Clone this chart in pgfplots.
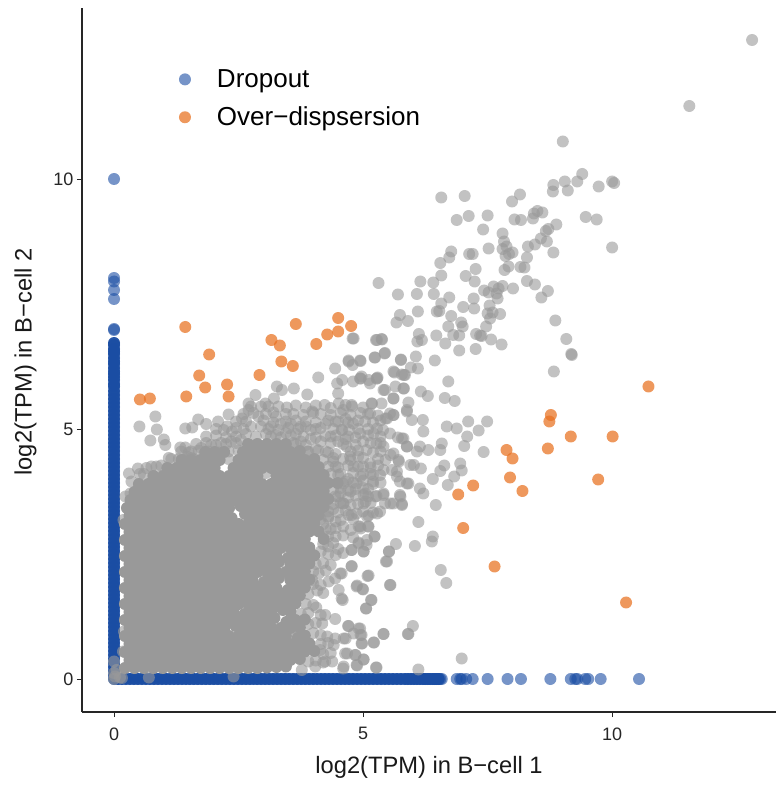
\documentclass[border=0pt]{standalone}
\usepackage{fontspec}
\setmainfont{Liberation Sans}
\usepackage{pgfplots}
\pgfplotsset{compat=1.18}
\definecolor{bl}{HTML}{1A4DA3}
\definecolor{gr}{HTML}{999999}
\definecolor{ora}{HTML}{E8701F}
\begin{document}
\begin{tikzpicture}
\path[use as bounding box] (-82pt,-73pt) rectangle (694pt,712pt);
\begin{axis}[
 scale only axis, width=694pt, height=704pt,
 xmin=-0.643, xmax=13.29, ymin=-0.66, ymax=13.42,
 axis lines=left, axis line style={-, line width=1.5pt, black!85},
 tick align=outside, major tick length=5pt,
 tick style={black!85, line width=0.8pt},
 xtick={0,5,10}, ytick={0,5,10},
 /pgf/number format/assume math mode=true,
 tick label style={font=\fontsize{18}{20}\selectfont, text=black!85},
 xticklabel style={yshift=-7pt},
 xlabel={log2(TPM) in B−cell 1}, ylabel={log2(TPM) in B−cell 2},
 label style={font=\fontsize{23.7}{28}\selectfont, text=black!90},
 xlabel style={yshift=-9pt},
 ylabel style={yshift=10pt, xshift=-2pt},
 legend cell align=left,
 legend style={draw=none, fill=none, at={(axis cs:1.3,12.23)}, anchor=north west, font=\fontsize{26}{30}\selectfont, row sep=14pt, inner sep=0pt},
 clip=false,
]
% Dropout: the dense x = 0 column and y = 0 row
\addplot[forget plot, only marks, mark=*, mark size=6pt, mark options={draw=bl, draw opacity=0, line width=0pt, fill=bl, fill opacity=0.95}] coordinates {
(0,0.0)(0,0.08)(0,0.16)(0,0.24)(0,0.32)(0,0.4)(0,0.48)(0,0.56)(0,0.64)(0,0.72)(0,0.8)(0,0.88)(0,0.96)(0,1.04)(0,1.12)(0,1.2)(0,1.28)(0,1.36)(0,1.44)(0,1.52)(0,1.6)(0,1.68)(0,1.76)(0,1.84)(0,1.92)(0,2.0)(0,2.08)(0,2.16)(0,2.24)(0,2.32)(0,2.4)(0,2.48)(0,2.56)(0,2.64)(0,2.72)(0,2.8)(0,2.88)(0,2.96)(0,3.04)(0,3.12)(0,3.2)(0,3.28)(0,3.36)(0,3.44)(0,3.52)(0,3.6)(0,3.68)(0,3.76)(0,3.84)(0,3.92)(0,4.0)(0,4.08)(0,4.16)(0,4.24)(0,4.32)(0,4.4)(0,4.48)(0,4.56)(0,4.64)(0,4.72)(0,4.8)(0,4.88)(0,4.96)(0,5.04)(0,5.12)(0,5.2)(0,5.28)(0,5.36)(0,5.44)(0,5.52)(0,5.6)(0,5.68)(0,5.76)(0,5.85)(0,5.9)(0,5.98)(0,6.04)(0,6.1)(0,6.15)(0,6.22)(0,6.3)(0,6.35)(0,6.42)(0,6.5)(0,6.55)(0,6.6)(0,6.68)(0,6.72)
(0.08,0)(0.16,0)(0.24,0)(0.32,0)(0.4,0)(0.48,0)(0.56,0)(0.64,0)(0.72,0)(0.8,0)(0.88,0)(0.96,0)(1.04,0)(1.12,0)(1.2,0)(1.28,0)(1.36,0)(1.44,0)(1.52,0)(1.6,0)(1.68,0)(1.76,0)(1.84,0)(1.92,0)(2.0,0)(2.08,0)(2.16,0)(2.24,0)(2.32,0)(2.4,0)(2.48,0)(2.56,0)(2.64,0)(2.72,0)(2.8,0)(2.88,0)(2.96,0)(3.04,0)(3.12,0)(3.2,0)(3.28,0)(3.36,0)(3.44,0)(3.52,0)(3.6,0)(3.68,0)(3.76,0)(3.84,0)(3.92,0)(4.0,0)(4.08,0)(4.16,0)(4.24,0)(4.32,0)(4.4,0)(4.48,0)(4.56,0)(4.64,0)(4.72,0)(4.8,0)(4.88,0)(4.96,0)(5.04,0)(5.12,0)(5.2,0)(5.28,0)(5.36,0)(5.44,0)(5.52,0)(5.6,0)(5.68,0)(5.76,0)(5.84,0)(5.9,0)(5.96,0)(6.02,0)(6.08,0)(6.14,0)(6.2,0)(6.25,0)(6.3,0)(6.35,0)(6.4,0)(6.44,0)(6.48,0)(6.52,0)
};
% Dropout: separate points
\addplot[only marks, mark=*, mark size=6pt, mark options={draw=bl, draw opacity=0, line width=0pt, fill=bl, fill opacity=0.6}] coordinates {
(0,6.98)(0,7.0)(0,7.6)(0,7.78)(0,7.95)(0,8.02)(0,10)
(6.55,0)(6.58,0)(6.88,0)(6.95,0)(6.98,0)(7.07,0)(7.2,0)(7.5,0)(7.9,0)(8.17,0)(8.76,0)(9.17,0)(9.26,0)(9.3,0)(9.46,0)(9.52,0)(9.77,0)(10.54,0)
};
\addlegendentry{\hspace*{24pt}Dropout}
% dense gray mass
\addplot[forget plot, only marks, mark=*, mark size=6pt, mark options={draw=gr, draw opacity=0, line width=0pt, fill=gr, fill opacity=1}] coordinates {
(0.22,.22)(.41,.22)(.60,.22)(.79,.22)(.98,.22)(1.17,.22)(1.36,.22)(1.55,.22)(1.74,.22)(1.93,.22)(2.12,.22)(2.31,.22)(2.50,.22)(2.69,.22)(2.88,.22)(3.07,.23)(3.26,.24)(3.45,.25)
(.31,.38)(.50,.38)(.69,.38)(.88,.38)(1.07,.38)(1.26,.38)(1.45,.38)(1.64,.38)(1.83,.38)(2.02,.38)(2.21,.38)(2.40,.38)(2.59,.38)(2.78,.38)(2.97,.38)(3.16,.38)(3.35,.38)(3.54,.38)(3.73,.4)
(0.22,.54)(.41,.54)(.60,.54)(.79,.54)(.98,.54)(1.17,.54)(1.36,.54)(1.55,.54)(1.74,.54)(1.93,.54)(2.12,.54)(2.31,.54)(2.50,.54)(2.69,.54)(2.88,.54)(3.07,.54)(3.26,.54)(3.45,.54)(3.64,.54)(3.83,.55)(4.02,.56)
(.31,.70)(.50,.70)(.69,.70)(.88,.70)(1.07,.70)(1.26,.70)(1.45,.70)(1.64,.70)(1.83,.70)(2.02,.70)(2.21,.70)(2.40,.70)(2.59,.70)(2.78,.70)(2.97,.70)(3.16,.70)(3.35,.70)(3.54,.70)(3.73,.70)(3.92,.71)
(0.22,.86)(.41,.86)(.60,.86)(.79,.86)(.98,.86)(1.17,.86)(1.36,.86)(1.55,.86)(1.74,.86)(1.93,.86)(2.12,.86)(2.31,.86)(2.50,.86)(2.69,.86)(2.88,.86)(3.07,.86)(3.26,.86)(3.45,.86)(3.69,.82)(3.83,.87)
(.31,1.02)(.50,1.02)(.69,1.02)(.88,1.02)(1.07,1.02)(1.26,1.02)(1.45,1.02)(1.64,1.02)(1.83,1.02)(2.02,1.02)(2.21,1.02)(2.44,1.06)(2.59,1.02)(2.78,1.02)(2.97,1.02)(3.16,1.02)(3.35,1.02)(3.54,1.02)(3.73,1.03)
(0.22,1.18)(.41,1.18)(.60,1.18)(.79,1.18)(.98,1.18)(1.17,1.18)(1.36,1.18)(1.55,1.18)(1.74,1.18)(1.93,1.18)(2.12,1.18)(2.31,1.18)(2.50,1.18)(2.69,1.18)(2.88,1.18)(3.07,1.18)(3.22,1.22)(3.46,1.14)(3.64,1.18)(3.83,1.19)
(.31,1.34)(.50,1.34)(.69,1.34)(.88,1.34)(1.07,1.34)(1.26,1.34)(1.45,1.34)(1.64,1.34)(1.83,1.34)(2.02,1.34)(2.21,1.34)(2.40,1.34)(2.62,1.3)(2.78,1.34)(2.97,1.34)(3.16,1.34)(3.39,1.38)(3.54,1.35)
(0.22,1.50)(.41,1.50)(.60,1.50)(.79,1.50)(.98,1.50)(1.17,1.50)(1.36,1.50)(1.55,1.50)(1.74,1.50)(1.93,1.50)(2.12,1.50)(2.31,1.50)(2.50,1.50)(2.69,1.50)(2.88,1.50)(3.07,1.50)(3.26,1.50)(3.45,1.50)(3.64,1.51)
(.31,1.66)(.50,1.66)(.69,1.66)(.88,1.66)(1.07,1.66)(1.26,1.66)(1.45,1.66)(1.64,1.66)(1.83,1.66)(2.02,1.66)(2.21,1.66)(2.40,1.66)(2.59,1.66)(2.78,1.66)(2.97,1.66)(3.16,1.66)(3.35,1.66)(3.54,1.66)(3.73,1.67)
(0.22,1.82)(.41,1.82)(.60,1.82)(.79,1.82)(.98,1.82)(1.17,1.82)(1.36,1.82)(1.55,1.82)(1.74,1.82)(1.93,1.82)(2.12,1.82)(2.31,1.82)(2.50,1.82)(2.69,1.82)(2.88,1.82)(3.07,1.82)(3.26,1.82)(3.49,1.78)(3.64,1.82)(3.83,1.83)
(.31,1.98)(.50,1.98)(.69,1.98)(.88,1.98)(1.07,1.98)(1.26,1.98)(1.45,1.98)(1.64,1.98)(1.83,1.98)(2.02,1.98)(2.21,1.98)(2.40,1.98)(2.59,1.98)(2.78,1.98)(3.01,1.94)(3.16,1.98)(3.31,2.02)(3.54,1.98)(3.73,1.98)(3.92,1.99)
(0.22,2.14)(.41,2.14)(.60,2.14)(.79,2.14)(.98,2.14)(1.17,2.14)(1.36,2.14)(1.55,2.14)(1.74,2.14)(1.93,2.14)(2.12,2.14)(2.31,2.14)(2.50,2.14)(2.69,2.14)(2.88,2.14)(3.07,2.14)(3.26,2.14)(3.45,2.14)(3.64,2.14)(3.83,2.15)
(.31,2.30)(.50,2.30)(.69,2.30)(.88,2.30)(1.07,2.30)(1.26,2.30)(1.45,2.30)(1.64,2.30)(1.83,2.30)(2.02,2.30)(2.21,2.30)(2.40,2.30)(2.59,2.30)(2.78,2.30)(2.97,2.30)(3.16,2.30)(3.31,2.34)(3.54,2.30)(3.73,2.30)(3.92,2.31)
(0.22,2.46)(.41,2.46)(.60,2.46)(.79,2.46)(.98,2.46)(1.17,2.46)(1.36,2.46)(1.55,2.46)(1.74,2.46)(1.93,2.46)(2.12,2.46)(2.31,2.46)(2.50,2.46)(2.69,2.46)(2.88,2.46)(3.07,2.46)(3.26,2.46)(3.49,2.42)(3.64,2.46)(3.83,2.46)(4.02,2.47)
(.31,2.62)(.50,2.62)(.69,2.62)(.88,2.62)(1.07,2.62)(1.26,2.62)(1.45,2.62)(1.64,2.62)(1.83,2.62)(2.02,2.62)(2.21,2.62)(2.40,2.62)(2.59,2.62)(2.78,2.62)(2.97,2.62)(3.16,2.62)(3.35,2.62)(3.54,2.62)(3.73,2.62)(3.92,2.63)
(0.22,2.78)(.41,2.78)(.60,2.78)(.79,2.78)(.98,2.78)(1.17,2.78)(1.36,2.78)(1.55,2.78)(1.74,2.78)(1.93,2.78)(2.12,2.78)(2.31,2.78)(2.50,2.78)(2.69,2.78)(2.88,2.78)(3.07,2.78)(3.26,2.78)(3.45,2.78)(3.64,2.78)(3.83,2.8)(4.21,2.8)
(.31,2.94)(.50,2.94)(.69,2.94)(.88,2.94)(1.07,2.94)(1.26,2.94)(1.45,2.94)(1.64,2.94)(1.83,2.94)(2.02,2.94)(2.21,2.94)(2.40,2.94)(2.59,2.94)(2.78,2.94)(2.97,2.94)(3.16,2.94)(3.35,2.94)(3.54,2.94)(3.73,2.94)(3.92,2.95)(4.11,2.95)
(0.22,3.10)(.41,3.10)(.60,3.10)(.79,3.10)(.98,3.10)(1.17,3.10)(1.36,3.10)(1.55,3.10)(1.74,3.10)(1.93,3.10)(2.12,3.10)(2.31,3.10)(2.50,3.10)(2.69,3.10)(2.88,3.10)(3.07,3.10)(3.26,3.10)(3.45,3.10)(3.64,3.10)(3.83,3.1)(4.02,3.12)
(.31,3.26)(.50,3.26)(.69,3.26)(.88,3.26)(1.07,3.26)(1.26,3.26)(1.45,3.26)(1.64,3.26)(1.83,3.26)(2.02,3.26)(2.21,3.26)(2.36,3.22)(2.63,3.3)(2.78,3.26)(2.97,3.26)(3.16,3.26)(3.35,3.26)(3.54,3.26)(3.73,3.26)(3.92,3.26)(4.11,3.28)
(0.26,3.42)(.41,3.42)(.60,3.42)(.79,3.42)(.98,3.42)(1.17,3.42)(1.36,3.42)(1.55,3.42)(1.74,3.42)(1.93,3.42)(2.12,3.42)(2.31,3.42)(2.54,3.46)(2.69,3.42)(2.88,3.42)(3.07,3.42)(3.26,3.42)(3.45,3.42)(3.64,3.42)(3.83,3.42)(4.02,3.42)(4.21,3.44)
(.33,3.58)(.50,3.58)(.69,3.58)(.88,3.58)(1.07,3.58)(1.26,3.58)(1.45,3.58)(1.64,3.58)(1.83,3.58)(2.02,3.58)(2.21,3.58)(2.40,3.58)(2.59,3.58)(2.78,3.58)(2.97,3.58)(3.16,3.58)(3.35,3.58)(3.54,3.58)(3.73,3.58)(3.92,3.58)(4.11,3.58)(4.30,3.6)
(.41,3.74)(.60,3.74)(.79,3.74)(.98,3.74)(1.17,3.74)(1.36,3.74)(1.55,3.74)(1.74,3.74)(1.93,3.74)(2.12,3.74)(2.31,3.74)(2.50,3.74)(2.69,3.74)(2.88,3.74)(3.07,3.74)(3.26,3.74)(3.45,3.74)(3.64,3.74)(3.83,3.74)(4.02,3.74)(4.21,3.76)
(.50,3.90)(.69,3.90)(.88,3.90)(1.07,3.90)(1.26,3.90)(1.45,3.90)(1.64,3.90)(1.83,3.90)(2.02,3.90)(2.21,3.90)(2.40,3.90)(2.59,3.90)(2.78,3.90)(2.97,3.90)(3.16,3.90)(3.35,3.90)(3.54,3.90)(3.73,3.90)(3.92,3.90)(4.11,3.90)(4.30,3.92)(4.49,3.92)
(.79,4.06)(.98,4.06)(1.17,4.06)(1.36,4.06)(1.55,4.06)(1.74,4.06)(1.93,4.06)(2.12,4.06)(2.31,4.06)(2.50,4.06)(2.69,4.06)(2.88,4.06)(3.26,4.06)(3.45,4.06)(3.64,4.06)(3.83,4.06)(4.02,4.06)(4.21,4.08)
(1.07,4.22)(1.26,4.22)(1.45,4.22)(1.64,4.22)(1.83,4.22)(2.02,4.22)(2.40,4.22)(2.59,4.22)(2.78,4.22)(2.97,4.22)(3.16,4.22)(3.35,4.22)(3.54,4.22)(3.73,4.22)(3.92,4.22)(4.11,4.24)
(1.36,4.38)(1.55,4.38)(1.74,4.38)(1.93,4.38)(2.12,4.38)(2.50,4.38)(2.69,4.38)(2.88,4.38)(3.07,4.38)(3.26,4.38)(3.45,4.38)(3.64,4.38)(3.83,4.38)(4.02,4.40)
(1.83,4.54)(2.02,4.54)(2.21,4.54)(2.59,4.54)(2.78,4.54)(2.97,4.54)(3.16,4.54)(3.35,4.54)(3.54,4.54)(3.73,4.56)
(2.69,4.70)(2.88,4.70)(3.07,4.70)(3.26,4.70)(3.45,4.70)
};
% lighter gray points, read one by one
\addplot[forget plot, only marks, mark=*, mark size=6pt, mark options={draw=gr, draw opacity=0, line width=0pt, fill=gr, fill opacity=0.6}] coordinates {
(12.81,12.78)(11.55,11.46)(9.01,10.75)(6.57,9.63)(7.04,9.66)(7.99,9.55)(8.15,9.69)(6.88,9.18)(7.12,9.26)(7.50,9.27)(8.04,9.19)(8.17,9.18)(8.41,9.21)(8.43,9.31)(8.50,9.36)(8.6,9.33)(7.41,8.99)(7.80,8.91)(7.83,8.75)(8.88,9.09)(8.72,9.0)(8.67,8.96)(8.57,8.81)(8.69,8.75)(8.45,8.69)(8.31,8.65)(8.82,9.88)(8.81,9.75)(9.05,9.95)(9.11,9.77)(9.30,9.95)(9.40,10.1)(9.73,9.85)(10.0,9.95)(10.04,9.92)(9.47,9.24)(9.69,9.19)(10.0,8.63)(8.82,8.53)(7.52,8.61)(6.77,8.55)(6.73,8.43)(6.55,8.32)(7.13,8.5)(7.2,8.5)(7.8,8.6)(7.88,8.65)(8.0,8.53)(7.86,8.46)(7.93,8.5)(8.29,8.43)(7.26,8.2)(7.06,8.06)(7.24,7.95)(6.57,8.07)(6.41,7.93)(6.15,7.95)(5.31,7.92)(7.92,8.25)(7.84,8.18)(8.16,8.24)(8.24,8.23)(8.29,7.96)(8.45,7.89)(8.71,7.76)(8.58,7.63)(8.01,7.81)(7.43,7.77)(7.52,7.73)(7.62,7.85)(7.72,7.81)(7.8,7.86)(7.68,7.71)(7.7,7.61)(5.70,7.69)(6.08,7.70)(6.42,7.70)(6.73,7.63)(6.57,7.51)(7.22,7.61)(7.01,7.44)(7.23,7.41)(7.54,7.47)(7.5,7.31)(7.6,7.33)(7.75,7.30)(7.55,7.21)(6.1,7.35)(6.48,7.35)(6.53,7.36)(5.74,7.28)(5.67,7.13)(5.9,7.16)(6.77,7.26)(6.71,7.05)(6.97,7.13)(7.0,7.05)(7.47,7.05)(8.86,7.17)(9.08,6.8)(9.18,6.5)(9.19,6.48)(8.83,6.15)(4.79,6.81)(5.26,6.78)(5.37,6.8)(6.12,6.9)(6.09,6.75)(6.18,6.78)(6.47,6.87)(6.65,6.71)(6.81,6.88)(6.93,6.87)(7.27,6.9)(7.38,6.86)(7.35,6.87)(7.57,6.79)(7.78,6.69)(7.26,6.6)(6.93,6.57)(5.44,6.52)(5.24,6.43)(4.94,6.37)(4.71,6.37)(4.79,6.28)(5.76,6.39)(6.06,6.45)(6.44,6.37)(5.96,6.23)(6.1,6.21)(5.63,6.13)(5.78,6.09)(5.84,6.08)(4.97,6.05)(5.29,6.03)(6.71,5.95)
(6.64,5.62)(6.84,5.56)(6.16,5.75)(6.3,5.66)(5.61,5.61)(5.44,5.78)(5.81,5.81)(5.27,6.01)(4.94,6.01)(5.14,5.91)(4.8,5.95)(5.91,5.53)(5.37,5.51)(5.17,5.51)(4.77,5.48)(5.61,5.28)(5.88,5.35)(5.98,5.18)(6.2,5.18)(6.21,4.95)(6.68,5.05)(6.88,5.01)(7.11,5.15)(7.49,5.15)(7.32,4.97)(7.09,4.85)(7.03,4.66)(6.58,4.71)(6.55,4.58)(6.31,4.58)(6.14,4.65)(6.08,4.55)(5.88,4.65)(5.81,4.81)(7.42,4.54)(6.95,4.31)(6.98,4.17)(6.83,4.05)(6.63,4.27)(6.55,4.16)(6.4,4.0)(6.7,3.88)(6.16,4.21)(6.02,4.28)(5.91,3.91)(5.74,3.95)(6.14,3.81)(6.21,3.71)(6.46,3.48)(6.11,3.14)(6.4,2.85)(6.38,2.75)(6.04,2.66)(5.66,2.7)(5.52,2.55)(5.48,2.35)(5.74,3.68)(5.78,3.5)(5.61,3.51)(5.41,3.68)(5.44,3.51)(5.27,3.66)(5.34,3.35)(5.11,3.27)(4.87,3.31)(4.71,3.28)(5.11,3.05)(4.94,3.05)(5.23,2.85)(5.07,2.68)(4.91,2.73)(5.01,2.55)(4.77,2.58)(4.77,2.25)(5.11,2.07)(5.54,1.88)(4.57,2.11)(4.87,1.85)(4.99,1.8)(5.16,1.58)(5.06,1.41)(4.57,1.61)(6.56,2.18)(6.67,1.92)(6.0,1.06)(5.91,0.9)(5.41,0.9)(5.22,0.73)(4.94,1.01)(4.71,1.06)(4.81,0.91)(4.97,0.88)(4.97,0.71)(4.61,0.81)(4.84,0.48)(5.01,0.39)(4.87,0.28)(4.64,0.51)(5.26,0.23)(6.11,0.19)(6.98,0.41)(4.6,0.21)
(4.6,5.38)(4.8,5.11)(5.14,5.31)(5.48,5.21)(4.94,4.91)(5.21,4.91)(5.54,4.91)(4.67,4.65)(5.07,4.58)(5.41,4.65)(5.61,4.51)(4.81,4.25)(5.14,4.31)(5.41,4.18)(5.71,4.38)(5.68,4.15)(4.6,3.91)(4.87,3.91)(5.01,3.68)(4.6,3.51)(5.34,4.08)(4.74,4.45)(5.27,4.71)(5.04,5.15)(4.57,4.98)(5.54,5.31)(5.01,3.51)(4.77,3.28)
(4.5,4.75)(4.65,4.8)(4.72,4.98)(4.9,5.0)(5.0,4.75)(5.15,4.72)(4.45,4.5)(4.6,4.4)(4.9,4.45)(5.0,4.25)(4.45,4.25)(4.55,4.1)(4.7,4.0)(4.95,4.05)(5.15,4.1)(5.2,3.9)(5.1,3.8)(4.75,3.75)(4.55,3.72)(4.4,4.35)(4.25,4.55)(4.05,4.6)(3.88,4.55)(4.15,4.75)(4.35,4.85)(3.95,4.8)(3.75,4.75)(3.6,4.72)(4.05,5.0)(3.85,5.05)(3.65,4.9)(3.45,4.92)(3.25,4.88)(3.05,4.9)(2.85,4.85)(2.65,4.9)(2.75,5.05)(2.95,5.05)(3.15,5.05)(3.35,5.1)(3.55,5.1)(3.75,5.05)(4.25,5.1)(4.45,5.15)(4.65,5.2)(2.9,5.25)(3.25,5.25)(3.45,5.3)(2.55,4.78)(2.35,4.75)(2.15,4.72)(1.95,4.68)(1.75,4.62)(1.55,4.55)(2.3,4.55)(2.1,4.5)(1.6,4.4)(1.3,4.4)(1.1,4.42)(.85,4.25)(.65,4.22)(.52,4.1)
(0.51,5.05)(0.83,5.25)(0.86,4.99)(0.73,4.77)(1.0,4.79)(1.03,4.68)(1.33,4.63)(1.43,4.63)(1.47,4.45)(1.70,4.33)(1.43,5.01)(1.57,5.03)(1.69,5.19)(1.85,5.1)(2.09,5.15)(2.3,5.29)(2.27,5.05)(2.37,4.95)(2.57,5.21)(2.7,5.51)(2.84,5.68)(3.21,5.61)(3.27,5.85)(3.37,5.78)(3.61,5.81)(3.88,5.69)(4.1,6.03)(4.44,6.21)(4.71,6.35)(4.81,6.81)(4.95,6.36)(5.23,6.43)(5.43,6.51)(5.76,6.38)(5.28,6.78)(5.38,6.79)(4.58,5.98)(4.48,5.91)(4.5,5.71)(4.95,6.01)(5.11,5.98)(5.28,6.01)(5.61,6.15)(5.82,6.08)(4.23,5.48)(3.98,5.35)(3.47,5.43)(3.04,5.51)(2.7,5.38)(4.51,5.51)(4.78,5.45)(5.18,5.51)(5.41,5.78)(5.61,5.61)(5.65,5.85)(5.82,5.81)(5.45,5.21)(5.61,5.28)(5.88,5.38)(4.58,4.98)(4.24,4.86)(5.28,5.01)(5.78,4.81)(5.88,4.65)(5.55,4.48)(5.72,4.35)(5.95,4.28)(5.58,4.18)(5.68,4.05)(5.88,3.91)(5.25,3.65)(5.41,3.71)(5.75,3.65)(5.78,3.48)(5.55,3.51)(5.28,3.31)(5.08,3.25)(4.91,3.05)(4.61,3.51)(4.44,3.65)(5.05,3.71)(5.05,3.55)(0.48,4.21)(0.3,4.11)(0.23,3.65)(0.33,3.71)(0.19,3.18)
(4.4,3.4)(4.3,3.25)(4.45,3.15)(4.6,3.05)(4.35,3.0)(4.2,3.1)(4.45,2.85)(4.3,2.65)(4.5,2.6)(4.15,2.55)
(5.52,2.55)(5.46,2.35)(5.55,1.88)(5.09,2.06)(4.77,2.26)(4.77,2.58)(5.01,2.55)(5.1,3.05)(4.95,3.01)(5.23,2.85)(4.91,2.71)(5.08,2.78)(4.88,1.87)(5.0,1.79)(5.17,1.58)(5.06,1.41)(4.54,2.11)(4.44,2.01)(4.31,1.95)(4.51,1.78)(4.59,1.58)(4.08,1.77)(4.11,2.11)(3.98,1.98)(4.06,1.43)(4.24,1.28)(4.44,1.2)(4.7,1.06)(4.91,1.01)(4.95,0.88)(5.41,0.9)(5.9,0.9)(5.21,0.73)(4.98,0.71)(4.65,0.81)(4.44,0.81)(4.28,0.85)(4.41,0.68)(4.68,0.51)(4.85,0.48)(5.01,0.39)(4.88,0.27)(5.27,0.23)(4.61,0.25)(4.38,0.35)(4.24,0.35)(4.04,0.25)(3.77,0.18)(4.14,0.58)(4.18,1.11)(3.64,0.91)
(2.75,5.45)(2.95,5.45)(3.1,5.45)(3.3,5.45)(3.65,5.47)(3.85,5.43)(4.05,5.47)(4.35,5.42)(4.65,5.48)(5.0,5.43)
(2.6,5.3)(2.8,5.32)(3.05,5.3)(3.2,5.33)(3.6,5.3)(3.8,5.28)(4.0,5.32)(4.15,5.3)(4.35,5.28)(4.55,5.32)(4.75,5.28)(4.95,5.32)(5.1,5.3)(5.3,5.27)
(2.45,5.15)(2.65,5.15)(3.0,5.17)(3.2,5.13)(3.45,5.15)(3.65,5.17)(3.85,5.15)(4.05,5.13)(4.3,5.17)(4.5,5.15)(4.7,5.13)(4.9,5.17)(5.2,5.13)(5.35,5.17)
(2.05,5.0)(2.2,4.98)(2.45,5.02)(2.6,5.0)(3.1,5.0)(3.3,4.98)(3.5,5.02)(3.7,5.0)(3.95,4.98)(4.15,5.02)(4.4,5.0)(5.1,5.0)(5.4,4.98)
(1.85,4.85)(2.05,4.87)(2.25,4.83)(2.45,4.85)(3.15,4.85)(3.35,4.83)(3.55,4.87)(3.8,4.85)(4.05,4.83)(4.45,4.87)(4.7,4.85)(4.85,4.83)(5.1,4.87)(5.35,4.85)(5.7,4.83)
(1.65,4.7)(1.85,4.72)(2.05,4.68)(2.25,4.7)(2.45,4.72)(3.65,4.7)(3.85,4.68)(4.35,4.72)(4.6,4.7)(4.85,4.68)(5.35,4.72)
(1.35,4.55)(1.5,4.53)(1.7,4.57)(1.9,4.55)(2.1,4.53)(2.5,4.57)(3.9,4.55)(4.1,4.57)(4.3,4.53)(4.75,4.55)(4.9,4.57)(5.2,4.53)(5.35,4.55)
(1.15,4.4)(1.4,4.38)(1.55,4.42)(2.3,4.4)(4.2,4.38)(4.4,4.42)(4.75,4.38)(5.0,4.42)(5.3,4.4)(5.45,4.38)
(.75,4.25)(.95,4.27)(4.3,4.25)(4.5,4.23)(4.7,4.27)(4.9,4.25)(5.15,4.23)(5.3,4.27)
(.6,4.1)(3.05,4.12)(4.35,4.1)(4.5,4.08)(4.8,4.12)(5.0,4.1)(5.2,4.08)
(.35,3.95)(4.65,3.95)(4.8,3.93)(5.0,3.97)(5.2,3.95)(5.35,3.93)
(4.4,3.8)(4.55,3.82)(4.7,3.78)(4.85,3.8)(5.0,3.82)
(4.5,3.65)(4.7,3.63)(4.85,3.67)(5.1,3.65)
(4.4,3.5)(4.55,3.52)(4.75,3.48)(4.9,3.5)(5.15,3.52)
(4.3,3.35)(4.5,3.33)(4.65,3.37)(5.0,3.35)(5.2,3.33)
(4.15,3.2)(4.3,3.22)(4.55,3.18)(4.8,3.2)
(4.25,3.0)(4.45,3.02)(4.75,2.98)
(4.3,2.85)(4.6,2.87)(4.8,2.83)
(4.2,2.7)(4.4,2.72)
(4.3,2.5)(4.45,2.48)(4.6,2.52)
(4.05,2.3)(4.2,2.32)(4.35,2.28)
(4.0,2.15)(4.25,2.17)
(4.0,1.9)(4.15,1.88)
(3.9,1.7)(4.2,1.72)
(3.85,1.5)(4.0,1.48)
(3.75,1.3)(3.9,1.32)(4.15,1.28)
(3.9,1.1)(4.05,1.12)
(3.7,.9)(4.0,.92)(4.15,.88)
(4.15,.7)(4.3,.72)
(4.2,.5)(4.35,.52)
(3.9,.35)(4.05,.37)(4.2,.33)
(0,0)(0.02,0.05)(0,0.12)(0.05,0.18)(0.12,0.03)(0.16,0.02)(0.7,0.03)(2.4,0.05)(0,0.35)(0.18,0.55)(0.2,0.95)
};
% Over-dispersion
\addplot[only marks, mark=*, mark size=6pt, mark options={draw=ora, draw opacity=0, line width=0pt, fill=ora, fill opacity=0.72}] coordinates {
(0.52,5.59)(0.72,5.61)(1.45,5.65)(1.43,7.04)(1.71,6.07)(1.83,5.83)(1.91,6.49)(2.27,5.89)(2.3,5.65)(2.92,6.08)(3.16,6.78)(3.33,6.67)(3.36,6.35)(3.59,6.26)(3.65,7.1)(4.06,6.7)(4.28,6.89)(4.5,6.95)(4.5,7.22)(4.76,7.06)
(10.73,5.85)(8.77,5.28)(8.74,5.15)(9.17,4.85)(10.01,4.85)(8.71,4.61)(7.88,4.58)(8.0,4.41)(7.95,4.03)(9.72,3.99)(7.21,3.87)(6.91,3.69)(8.2,3.76)(7.01,3.02)(7.64,2.25)(10.28,1.53)
};
\addlegendentry{\hspace*{24pt}Over−dispsersion}
\end{axis}
\end{tikzpicture}
\end{document}
